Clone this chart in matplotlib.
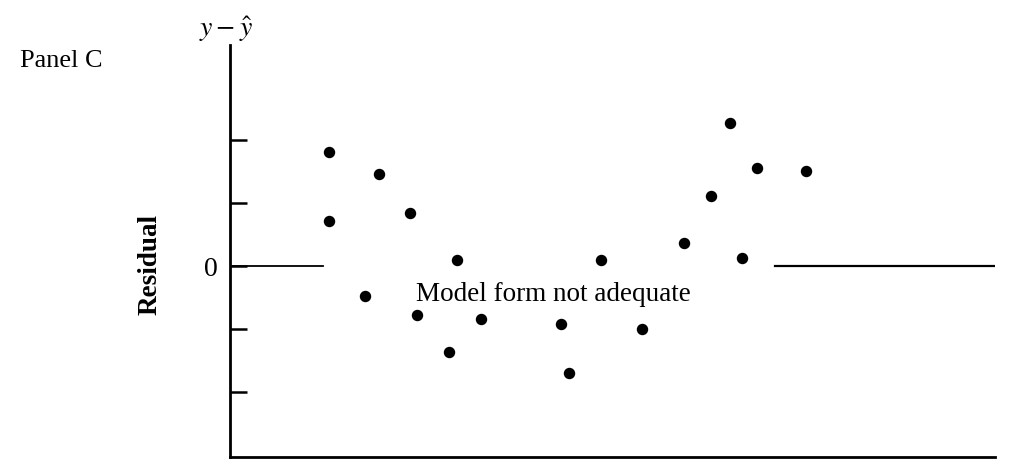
import matplotlib
matplotlib.use("Agg")
import matplotlib.pyplot as plt
import numpy as np

### Data
x_pts = [12.9, 12.9, 17.6, 19.5, 23.5, 24.4, 28.6, 29.7, 32.8, 43.3,
         44.3, 48.5, 53.9, 59.3, 62.9, 65.4, 66.9, 68.9, 75.3]
resid = [1.81, 0.71, -0.48, 1.46, 0.84, -0.78, -1.37, 0.10, -0.84, -0.92,
         -1.70, 0.10, -1.00, 0.37, 1.11, 2.27, 0.13, 1.56, 1.51]
y_ticks = [-2, -1, 0, 1, 2]
y_ticklabels = ['', '', '0', '', '']
zero_left = [0, 12.2]
zero_right = [71.2, 100]

plt.rcParams['font.family'] = ['Liberation Serif', 'DejaVu Serif']
plt.rcParams['mathtext.fontset'] = 'stix'

fig = plt.figure(figsize=(10.09, 4.62), dpi=100)
ax = fig.add_axes([0.228, 0.0108, 0.758, 0.8918])

ax.scatter(x_pts, resid, s=52, color='black', zorder=3)
ax.plot(zero_left, [0, 0], color='black', lw=1.3)
ax.plot(zero_right, [0, 0], color='black', lw=1.6)

ax.text(42.3, -0.45, 'Model form not adequate', fontsize=19.5,
        ha='center', va='center')

ax.set_xlim(0, 100)
ax.set_ylim(-3.03, 3.51)
ax.spines['top'].set_visible(False)
ax.spines['right'].set_visible(False)
ax.spines['left'].set_linewidth(2)
ax.spines['bottom'].set_linewidth(2)
ax.set_xticks([])
ax.set_yticks(y_ticks)
ax.set_yticklabels(y_ticklabels, fontsize=20)
ax.tick_params(axis='y', direction='in', length=12.5, width=1.8, pad=8.6)

ax.set_ylabel('Residual', fontsize=19.5, fontweight='bold')
ax.yaxis.set_label_coords(-0.088, 0.468)
fig.text(0.224, 0.937, r'$y-\hat{y}$', fontsize=20, ha='center', va='center')
fig.text(0.02, 0.868, 'Panel C', fontsize=18.9, ha='left', va='center')

fig.savefig('out.png', dpi=100)
